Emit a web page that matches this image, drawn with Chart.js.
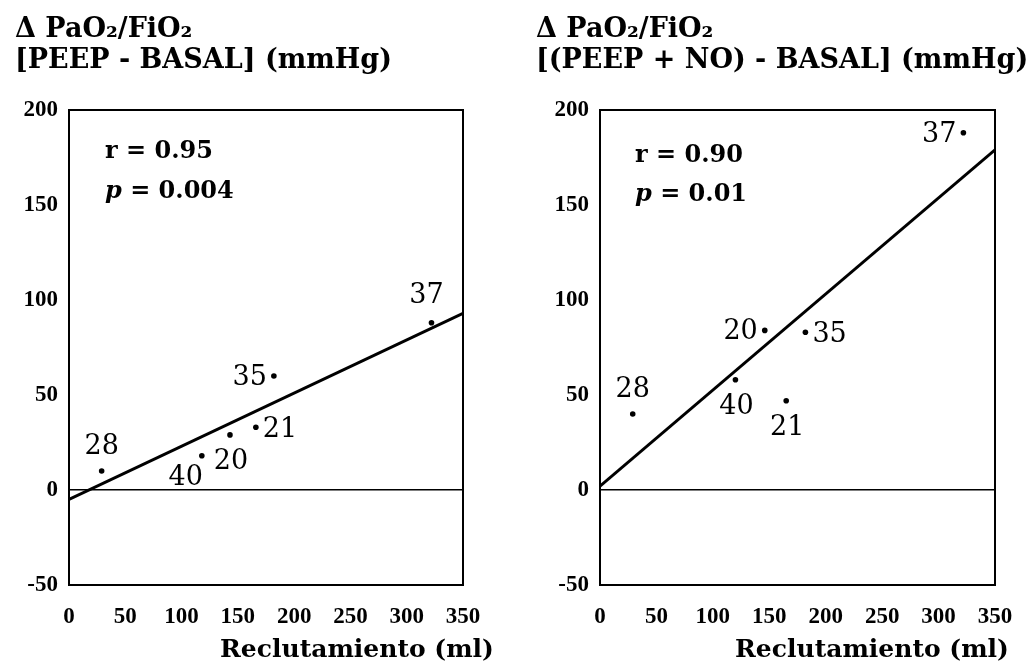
<!DOCTYPE html>
<html>
<head>
<meta charset="utf-8">
<script src="https://cdn.jsdelivr.net/npm/chart.js@4.4.1/dist/chart.umd.min.js"></script>
<style>
  html, body { margin: 0; padding: 0; background: #fff; }
  #wrap { position: relative; width: 1034px; height: 668px; overflow: hidden; }
  .panel { position: absolute; top: 0; width: 517px; height: 668px; }
  #left { left: 0; }
  #right { left: 517px; }
</style>
</head>
<body>
<div id="wrap">
  <div class="panel" id="left"><canvas id="cLeft"></canvas></div>
  <div class="panel" id="right"><canvas id="cRight"></canvas></div>
</div>
<script>
// Patient identifiers, in the same order in both panels
const patients = ['28', '40', '20', '21', '35', '37'];

// Recruited volume (ml) and change in PaO2/FiO2 (mmHg), PEEP vs baseline
const recruitPeep = [29, 118, 143, 166, 182, 322];
const deltaPeep   = [10, 18, 29, 33, 60, 88];

// Recruited volume (ml) and change in PaO2/FiO2 (mmHg), PEEP + NO vs baseline
const recruitPeepNo = [29, 120, 146, 165, 182, 322];
const deltaPeepNo   = [40, 58, 84, 47, 83, 188];

// Regression lines, evaluated at the ends of the x range
const fitX       = [0, 350];
const fitPeep    = [-5, 93];
const fitPeepNo  = [2, 179];

// Correlation statistics
const corrR = ['0.95', '0.90'];
const corrP = ['0.004', '0.01'];

// Axis ranges / tick steps
const xRange = [0, 350];
const yRange = [-50, 200];
const xStep = 50;
const yStep = 50;

// Texts
const headerPeep   = ['Δ PaO₂/FiO₂', '[PEEP - BASAL] (mmHg)'];
const headerPeepNo = ['Δ PaO₂/FiO₂', '[(PEEP + NO) - BASAL] (mmHg)'];
const xTitle = 'Reclutamiento (ml)';

// Where each patient number sits around its dot
const sidesPeep   = ['above', 'below-left', 'below', 'right', 'left', 'above-left'];
const sidesPeepNo = ['above', 'below', 'left', 'below', 'right', 'left'];

const SERIF = "'DejaVu Serif', 'Liberation Serif', serif";
const TIMES = "'Liberation Serif', 'DejaVu Serif', serif";
const SIDE = {
  'above':      { align: 'center', dx: 0,  dy: -24 },
  'above-left': { align: 'center', dx: -5, dy: -27 },
  'below':      { align: 'center', dx: 1,  dy: 27 },
  'below-left': { align: 'right',  dx: 1,  dy: 22 },
  'left':       { align: 'right',  dx: -7, dy: 2 },
  'right':      { align: 'left',   dx: 7,  dy: 3 }
};

// Frame, headings, statistics, point numbers and x title
const panelText = {
  id: 'panelText',
  afterDraw(chart, args, o) {
    const ctx = chart.ctx;
    const a = chart.chartArea;
    ctx.save();
    ctx.strokeStyle = '#000';
    ctx.lineWidth = 2;
    ctx.strokeRect(a.left, a.top, a.right - a.left, a.bottom - a.top);

    ctx.fillStyle = '#000';
    ctx.textBaseline = 'alphabetic';

    // heading above the y axis
    ctx.font = `bold 27px ${SERIF}`;
    ctx.textAlign = 'left';
    o.header.forEach((line, i) => ctx.fillText(line, o.headerX, o.headerY[i]));

    // r and p
    ctx.font = `bold 24px ${SERIF}`;
    ctx.fillText(`r = ${o.r}`, o.statX, o.statY[0]);
    ctx.font = `italic bold 24px ${SERIF}`;
    ctx.fillText('p', o.statX, o.statY[1]);
    const pw = ctx.measureText('p').width;
    ctx.font = `bold 24px ${SERIF}`;
    ctx.fillText(` = ${o.p}`, o.statX + pw, o.statY[1]);

    // patient numbers next to their dots
    ctx.font = `27px ${SERIF}`;
    ctx.textBaseline = 'middle';
    const meta = chart.getDatasetMeta(0);
    meta.data.forEach((pt, i) => {
      const s = SIDE[o.sides[i]];
      ctx.textAlign = s.align;
      ctx.fillText(patients[i], pt.x + s.dx, pt.y + s.dy);
    });

    // x axis title
    ctx.font = `bold 25px ${SERIF}`;
    ctx.textAlign = 'center';
    ctx.textBaseline = 'alphabetic';
    ctx.fillText(xTitle, o.titleX, o.titleY);
    ctx.restore();
  }
};

function makePanel(canvasId, xs, ys, fit, cfg) {
  const points = xs.map((x, i) => ({ x: x, y: ys[i] }));
  const line = fitX.map((x, i) => ({ x: x, y: fit[i] }));
  return new Chart(document.getElementById(canvasId), {
    type: 'scatter',
    data: {
      datasets: [
        {
          data: points,
          pointRadius: 2.8,
          pointHoverRadius: 2.8,
          backgroundColor: '#000',
          borderColor: '#000',
          borderWidth: 0
        },
        {
          type: 'line',
          data: line,
          showLine: true,
          pointRadius: 0,
          borderColor: '#000',
          borderWidth: 3,
          fill: false
        }
      ]
    },
    options: {
      responsive: true,
      maintainAspectRatio: false,
      animation: false,
      devicePixelRatio: 1,
      layout: { padding: { top: 110, left: 0, right: cfg.padRight, bottom: 0 } },
      plugins: {
        legend: { display: false },
        tooltip: { enabled: false },
        panelText: cfg.text
      },
      scales: {
        x: {
          type: 'linear',
          min: xRange[0], max: xRange[1],
          afterFit: s => { s.height = 83; },
          grid: { display: false },
          border: { display: false },
          ticks: {
            stepSize: xStep,
            autoSkip: false,
            maxRotation: 0,
            padding: 10,
            color: '#000',
            font: { family: TIMES, weight: 'bold', size: 23 }
          }
        },
        y: {
          type: 'linear',
          min: yRange[0], max: yRange[1],
          afterFit: s => { s.width = cfg.yWidth; },
          border: { display: false },
          grid: {
            drawTicks: false,
            lineWidth: 1.5,
            color: c => (c.tick && c.tick.value === 0 ? '#000' : 'rgba(0,0,0,0)')
          },
          ticks: {
            stepSize: yStep,
            padding: 11,
            color: '#000',
            font: { family: TIMES, weight: 'bold', size: 23 }
          }
        }
      }
    },
    plugins: [panelText]
  });
}

makePanel('cLeft', recruitPeep, deltaPeep, fitPeep, {
  padRight: 54,
  yWidth: 69,
  text: {
    header: headerPeep, headerX: 15, headerY: [37, 68],
    r: corrR[0], p: corrP[0], statX: 105, statY: [158, 198],
    sides: sidesPeep,
    titleX: 357, titleY: 657
  }
});

makePanel('cRight', recruitPeepNo, deltaPeepNo, fitPeepNo, {
  padRight: 39,
  yWidth: 83,
  text: {
    header: headerPeepNo, headerX: 19, headerY: [37, 68],
    r: corrR[1], p: corrP[1], statX: 118, statY: [162, 201],
    sides: sidesPeepNo,
    titleX: 355, titleY: 657
  }
});
</script>
</body>
</html>
